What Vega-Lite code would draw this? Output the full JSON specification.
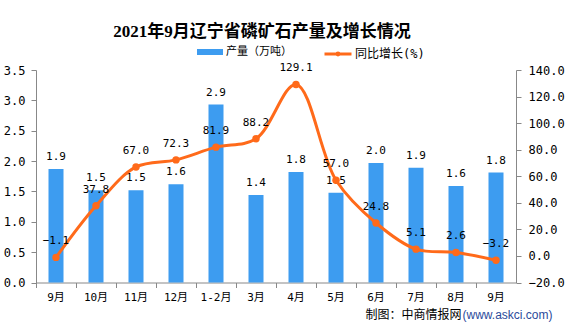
{
  "$schema": "https://vega.github.io/schema/vega-lite/v6.json",
  "width": 480,
  "height": 212.5,
  "autosize": {"type": "none"},
  "padding": {"left": 36, "top": 70, "right": 60, "bottom": 47.5},
  "background": "white",
  "title": {
    "text": "2021年9月辽宁省磷矿石产量及增长情况",
    "font": "Liberation Serif, Noto Sans CJK SC",
    "fontSize": 17,
    "fontWeight": "bold",
    "color": "#000000",
    "anchor": "middle",
    "frame": "group",
    "dx": -14,
    "offset": -2
  },
  "data": {
    "values": [
      {"月份": "2020年9月", "产量": 1.87, "增长": -1.1},
      {"月份": "2020年10月", "产量": 1.52, "增长": 37.8},
      {"月份": "2020年11月", "产量": 1.52, "增长": 67.0},
      {"月份": "2020年12月", "产量": 1.62, "增长": 72.3},
      {"月份": "2021年1-2月", "产量": 2.93, "增长": 81.9},
      {"月份": "2021年3月", "产量": 1.44, "增长": 88.2},
      {"月份": "2021年4月", "产量": 1.82, "增长": 129.1},
      {"月份": "2021年5月", "产量": 1.48, "增长": 57.0},
      {"月份": "2021年6月", "产量": 1.97, "增长": 24.8},
      {"月份": "2021年7月", "产量": 1.89, "增长": 5.1},
      {"月份": "2021年8月", "产量": 1.59, "增长": 2.6},
      {"月份": "2021年9月", "产量": 1.81, "增长": -3.2}
    ]
  },
  "config": {
    "view": {"stroke": null},
    "axis": {
      "labelFont": "DejaVu Sans Mono, Noto Sans CJK SC",
      "labelColor": "#000000",
      "domainColor": "#888888",
      "tickColor": "#888888",
      "tickSize": 5,
      "grid": false
    }
  },
  "layer": [
    {
      "encoding": {
        "x": {
          "field": "月份",
          "type": "nominal",
          "sort": null,
          "scale": {"paddingInner": 0, "paddingOuter": 0},
          "axis": {
            "bandPosition": 0,
            "labelAngle": 0,
            "labelFontSize": 11,
            "labelPadding": 4,
            "labelExpr": "slice(datum.value, 5)",
            "title": "制图：中商情报网",
            "titleFont": "Noto Sans CJK SC",
            "titleFontSize": 12,
            "titleFontWeight": "normal",
            "titleColor": "#000000",
            "titleAlign": "left",
            "titleAnchor": "start",
            "titleBaseline": "middle",
            "titleX": 329,
            "titleY": 31.5
          }
        },
        "y": {
          "field": "产量",
          "type": "quantitative",
          "scale": {"domain": [0, 3.5], "nice": false, "zero": false},
          "axis": {
            "orient": "left",
            "values": [0, 0.5, 1, 1.5, 2, 2.5, 3, 3.5],
            "format": ".1f",
            "labelFontSize": 12,
            "labelPadding": 6,
            "title": null
          }
        }
      },
      "layer": [
        {
          "mark": {"type": "bar", "width": 15},
          "encoding": {
            "fill": {
              "datum": "产量（万吨）",
              "scale": {"range": ["#3D9CF0"]},
              "legend": {
                "orient": "none",
                "legendX": 161,
                "legendY": -31,
                "title": null,
                "padding": 0,
                "symbolType": "M-1,-0.23H1V0.23H-1Z",
                "symbolSize": 676,
                "symbolStrokeWidth": 0,
                "labelFont": "DejaVu Sans Mono, Noto Sans CJK SC",
                "labelFontSize": 11,
                "labelColor": "#000000",
                "labelOffset": 3
              }
            }
          }
        },
        {
          "mark": {"type": "text", "dy": -12, "baseline": "middle", "font": "DejaVu Sans Mono", "fontSize": 11, "color": "#000000"},
          "encoding": {
            "text": {"field": "产量", "type": "quantitative", "format": ".1f"}
          }
        }
      ]
    },
    {
      "encoding": {
        "x": {
          "field": "月份",
          "type": "nominal",
          "sort": null,
          "scale": {"paddingInner": 0, "paddingOuter": 0},
          "axis": {
            "orient": "bottom",
            "labels": false,
            "ticks": false,
            "domain": false,
            "title": "(www.askci.com)",
            "titleFont": "Liberation Sans",
            "titleFontSize": 12,
            "titleFontWeight": "normal",
            "titleColor": "#2B4A9B",
            "titleAlign": "left",
            "titleAnchor": "start",
            "titleBaseline": "middle",
            "titleX": 426,
            "titleY": 31.5
          }
        },
        "y": {
          "field": "增长",
          "type": "quantitative",
          "scale": {"domain": [-20, 140], "nice": false, "zero": false},
          "axis": {
            "orient": "right",
            "values": [-20, 0, 20, 40, 60, 80, 100, 120, 140],
            "format": ".1f",
            "labelFontSize": 12,
            "labelPadding": 7,
            "title": null
          }
        }
      },
      "layer": [
        {
          "mark": {
            "type": "line",
            "interpolate": "catmull-rom",
            "strokeWidth": 3,
            "point": {"filled": true, "size": 55}
          },
          "encoding": {
            "color": {
              "datum": "同比增长(%)",
              "scale": {"range": ["#FF6A1A"]},
              "legend": {
                "orient": "none",
                "legendX": 287,
                "legendY": -31,
                "title": null,
                "padding": 0,
                "symbolType": "M-1,0H1M-0.07,0A0.07,0.07 0 1,1 0.07,0A0.07,0.07 0 1,1 -0.07,0",
                "symbolSize": 729,
                "symbolStrokeWidth": 3,
                "labelFont": "DejaVu Sans Mono, Noto Sans CJK SC",
                "labelFontSize": 12,
                "labelColor": "#000000",
                "labelOffset": 2
              }
            }
          }
        },
        {
          "mark": {"type": "text", "dy": -16, "baseline": "middle", "font": "DejaVu Sans Mono", "fontSize": 11, "color": "#000000"},
          "encoding": {
            "text": {"field": "增长", "type": "quantitative", "format": ".1f"}
          }
        }
      ]
    }
  ],
  "resolve": {"scale": {"y": "independent"}, "axis": {"x": "independent"}}
}
